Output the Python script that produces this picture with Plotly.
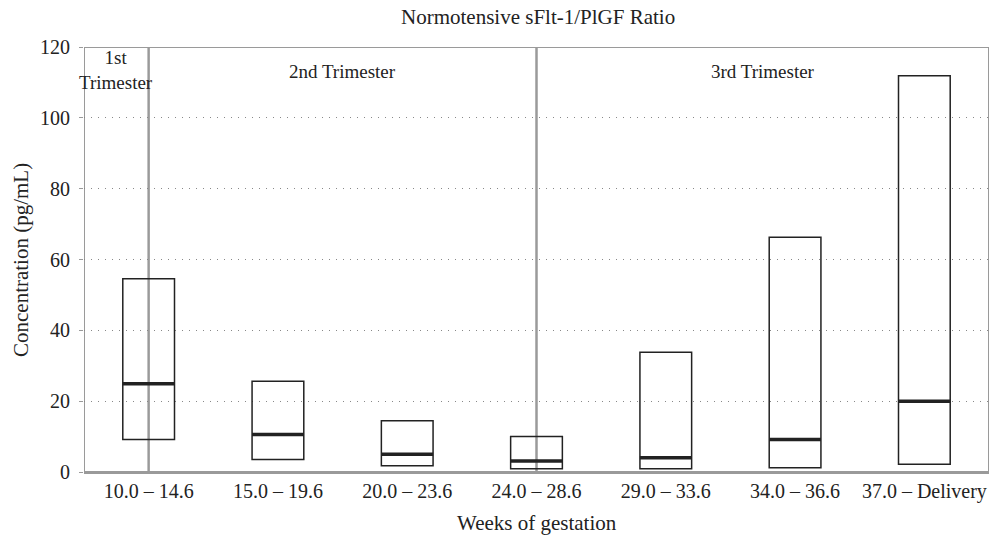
import plotly.graph_objects as go

categories = ["10.0 – 14.6", "15.0 – 19.6", "20.0 – 23.6", "24.0 – 28.6",
              "29.0 – 33.6", "34.0 – 36.6", "37.0 – Delivery"]
q1 = [9.2, 3.5, 1.8, 0.9, 0.9, 1.2, 2.2]
median = [24.9, 10.6, 5.0, 3.1, 4.0, 9.2, 20.0]
q3 = [54.6, 25.6, 14.5, 10.0, 33.8, 66.3, 111.9]

trimester_labels = ["1st<br>Trimester", "2nd Trimester", "3rd Trimester"]
trimester_bounds = [(-0.5, 0), (0, 3), (3, 6.5)]
trimester_label_y = [113.6, 113.2, 113.2]

FONT = "Liberation Serif"
TXT = "#222"

fig = go.Figure()

# trimester frames
for (x0, x1), lab, ly in zip(trimester_bounds, trimester_labels, trimester_label_y):
    fig.add_shape(type="rect", xref="x", yref="y", x0=x0, x1=x1, y0=0, y1=120,
                  line=dict(color="#9a9a9a", width=2), layer="below")
    fig.add_annotation(x=(x0 + x1) / 2, y=ly, yref="y", xref="x",
                       text=lab, showarrow=False, yanchor="middle",
                       font=dict(family=FONT, size=19, color=TXT))

fig.add_trace(go.Box(
    x=categories, q1=q1, median=median, q3=q3,
    lowerfence=q1, upperfence=q3,
    width=0.4, fillcolor="rgba(255,255,255,0)",
    line=dict(color=TXT, width=1.5),
    whiskerwidth=0, showlegend=False, hoverinfo="skip",
))

fig.add_trace(go.Scatter(
    x=categories, y=median, mode="markers",
    marker=dict(symbol="line-ew", size=37, line=dict(color=TXT, width=3.5)),
    showlegend=False, hoverinfo="skip",
))

# titles
fig.add_annotation(text="Normotensive sFlt-1/PlGF Ratio", xref="paper", yref="paper",
                   x=0.5017, y=1.0706, xanchor="center", yanchor="middle",
                   showarrow=False, font=dict(family=FONT, size=21, color=TXT))
fig.add_annotation(text="Weeks of gestation", xref="paper", yref="paper",
                   x=0.5006, y=-0.12, xanchor="center", yanchor="middle",
                   showarrow=False, font=dict(family=FONT, size=21, color=TXT))
fig.add_annotation(text="Concentration (pg/mL)", xref="paper", yref="paper",
                   x=-0.0696, y=0.4988, xanchor="center", yanchor="middle",
                   textangle=-90, showarrow=False,
                   font=dict(family=FONT, size=21, color=TXT))

fig.update_layout(
    width=993, height=535,
    margin=dict(l=84, r=4, t=47, b=63),
    paper_bgcolor="white", plot_bgcolor="white",
    font=dict(family=FONT, color=TXT),
    xaxis=dict(
        type="category", range=[-0.5, 6.5], showgrid=False, automargin=False,
        showline=True, linecolor="#9a9a9a", linewidth=1.5,
        tickfont=dict(family=FONT, size=20, color=TXT), ticks="",
    ),
    yaxis=dict(
        range=[0, 120], tickvals=[0, 20, 40, 60, 80, 100, 120], automargin=False,
        showgrid=True, gridcolor="#888", gridwidth=1, griddash="1px,6px",
        zeroline=False, showline=False,
        ticks="outside", ticklen=4, tickcolor="#9a9a9a", ticklabelstandoff=5,
        tickfont=dict(family=FONT, size=20, color=TXT),
    ),
)

fig.write_html("out.html", config={"displayModeBar": False},
               post_script="document.body.style.margin='0';document.body.style.overflow='hidden';")
